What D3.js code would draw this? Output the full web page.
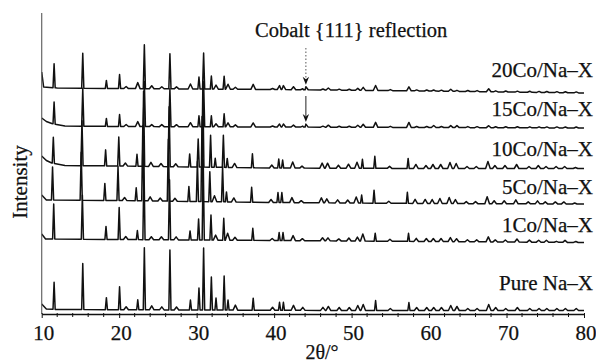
<!DOCTYPE html>
<html>
<head>
<meta charset="utf-8">
<script src="https://cdn.jsdelivr.net/npm/d3@7"></script>
<style>
  html, body { margin: 0; padding: 0; background: #fff; }
  svg { display: block; }
  text { font-family: "Liberation Serif", "Times New Roman", serif; fill: #111; stroke: #111; stroke-width: 0.25px; }
</style>
</head>
<body>
<svg id="chart" width="596" height="364"></svg>
<script>
// ---- data -------------------------------------------------------------
const xTicks = [10, 20, 30, 40, 50, 60, 70, 80];
const minorTicks = d3.range(10, 81, 2);
const sampleNames = ["Pure Na–X", "1Co/Na–X", "5Co/Na–X", "10Co/Na–X", "15Co/Na–X", "20Co/Na–X"];

// Reflection positions (2θ, degrees) shared by all patterns
const peakAngles = [
  11.6, 15.3, 18.35, 20.05, 20.9, 22.4, 23.25, 24.2, 25.5, 26.55,
  27.4, 29.2, 30.3, 30.9, 31.9, 32.5, 33.55, 34.05, 35.0, 37.3,
  39.8, 40.7, 41.2, 42.5, 43.7, 44.1, 46.3, 47.0, 48.4, 49.7,
  50.8, 51.5, 53.1, 55.0, 57.4, 58.4, 59.7, 60.6, 61.6, 62.8,
  63.6, 65.0, 66.2, 67.7, 68.6, 69.9, 71.4, 73.0, 74.2, 75.2,
  76.5, 77.6, 79.0
];

// Peak heights above background (arbitrary intensity units), one per angle
const heightsPure = [
  27, 46, 12, 23, 3, 10, 62, 4, 3, 60,
  3, 10, 22, 62, 33, 12, 34, 10, 5, 12,
  3, 8, 8, 5, 3, 0, 3, 4, 3, 3,
  5, 6, 10, 2, 8, 3, 3, 3, 3, 5,
  4, 2, 2, 6, 3, 2, 3, 2, 2, 2,
  2, 2, 2
];
const heights1Co = [
  35, 44, 13, 32, 3, 9, 75, 3, 3, 60,
  3, 9, 21, 80, 25, 5, 22, 7, 3, 12,
  2, 8, 8, 5, 2, 0, 3, 3, 2, 3,
  4, 7, 8, 2, 8, 3, 3, 3, 3, 4,
  3, 2, 2, 5, 2, 2, 3, 2, 2, 2,
  1, 2, 1
];
const heights5Co = [
  33, 48, 17, 34, 3, 13, 75, 4, 3, 62,
  3, 15, 40, 85, 30, 6, 35, 10, 4, 15,
  3, 10, 10, 5, 2, 0, 5, 4, 3, 3,
  6, 8, 13, 2, 11, 4, 4, 4, 5, 6,
  4, 2, 2, 7, 3, 3, 4, 2, 3, 2,
  2, 2, 1
];
const heights10Co = [
  26, 45, 16, 29, 3, 12, 75, 4, 3, 60,
  3, 13, 28, 80, 32, 9, 32, 9, 4, 14,
  3, 9, 8, 6, 2, 0, 5, 5, 3, 4,
  6, 9, 12, 2, 10, 4, 3, 4, 4, 6,
  5, 2, 2, 7, 3, 3, 4, 2, 3, 2,
  2, 2, 1
];
const heights15Co = [
  22, 38, 8, 12, 2, 5, 45, 2, 2, 38,
  2, 4, 11, 45, 11, 3, 13, 4, 2, 4,
  1, 3, 3, 2, 1, 3, 1, 2, 1, 1,
  2, 3, 5, 1, 5, 1, 1, 2, 1, 2,
  2, 1, 1, 2, 1, 1, 1, 1, 1, 1,
  1, 1, 1
];
const heights20Co = [
  24, 35, 8, 14, 2, 6, 44, 3, 2, 35,
  2, 5, 12, 36, 13, 4, 13, 5, 2, 5,
  1, 4, 4, 3, 1, 3, 1, 2, 1, 1,
  2, 3, 5, 1, 4, 1, 1, 1, 1, 2,
  1, 1, 1, 3, 1, 1, 1, 1, 1, 1,
  1, 1, 1
];

// Background level of each pattern (2θ, stacked intensity)
const backgroundPure = [[10, 10], [10.6, 5], [12, 4.5], [30, 4], [50, 3.5], [80, 3.5]];
const background1Co  = [[10, 80], [10.5, 75], [20, 74.5], [40, 73.5], [60, 72.5], [80, 71.5]];
const background5Co  = [[10, 119], [10.6, 114], [20, 113.5], [40, 111.5], [60, 110.5], [80, 110]];
const background10Co = [[10, 158], [10.6, 153.5], [11.3, 151], [13, 148.5], [20, 148], [40, 146], [60, 145.5], [80, 145.5]];
const background15Co = [[10, 196], [10.6, 192.5], [11.3, 190.5], [13, 188], [20, 187.5], [40, 187], [60, 186.5], [80, 186]];
const background20Co = [[10, 242], [10.25, 227], [12, 226], [20, 225.5], [40, 224.5], [60, 223], [80, 221]];

// Small lattice shift of each pattern (degrees)
const peakShift = [0, -0.05, -0.2, -0.1, 0, 0];
const cobaltAngle = 44.1;

const heightSets = [heightsPure, heights1Co, heights5Co, heights10Co, heights15Co, heights20Co];
const backgroundSets = [backgroundPure, background1Co, background5Co, background10Co, background15Co, background20Co];

// ---- layout -------------------------------------------------------------
const svg = d3.select("#chart");
svg.append("rect").attr("width", 596).attr("height", 364).attr("fill", "#fff");

const x = d3.scaleLinear().domain([10, 80]).range([41.7, 584]);
const y = d3.scaleLinear().domain([0, 300]).range([314, 14]);

// strong reflections are sharp; weak ones read as broad bumps
const halfWidth = h => (h >= 8 ? 0.14 : 0.3);

const line = d3.line().x(d => x(d[0])).y(d => y(d[1]));

function backgroundScale(i) {
  return d3.scaleLinear()
    .domain(backgroundSets[i].map(d => d[0]))
    .range(backgroundSets[i].map(d => d[1]));
}

function patternPoints(i) {
  const bg = backgroundScale(i);
  const peaks = [];
  peakAngles.forEach((a, k) => {
    const h = heightSets[i][k];
    if (h <= 0) return;
    const c = a + peakShift[i];
    const w = halfWidth(h);
    peaks.push({ lo: c - w, hi: c + w, pts: [[c - w, bg(c - w)], [c, bg(c) + h], [c + w, bg(c + w)]] });
  });
  // background knots that fall inside a reflection are dropped
  const knots = backgroundSets[i]
    .filter(b => !peaks.some(p => b[0] > p.lo && b[0] < p.hi))
    .map(b => [b[0], b[1]]);
  return knots.concat(...peaks.map(p => p.pts)).sort((p, q) => p[0] - q[0]);
}

const traces = svg.append("g");
sampleNames.forEach((name, i) => {
  traces.append("path")
    .attr("d", line(patternPoints(i)))
    .attr("fill", "none")
    .attr("stroke", "#111")
    .attr("stroke-width", 1.5)
    .attr("stroke-linejoin", "round");
});

// sample labels, right aligned above each trace
const labelGap = [20.5, 10.5, 10, 12.5, 12, 16];
sampleNames.forEach((name, i) => {
  const bgEnd = backgroundSets[i][backgroundSets[i].length - 1][1];
  svg.append("text")
    .attr("x", 593)
    .attr("y", y(bgEnd) - labelGap[i])
    .attr("text-anchor", "end")
    .attr("font-size", 21)
    .text(name);
});

// vertical intensity axis (line only)
svg.append("line")
  .attr("x1", 41.7).attr("x2", 41.7)
  .attr("y1", 13).attr("y2", 314)
  .attr("stroke", "#666").attr("stroke-width", 1.2);

// x axis with minor ticks every 2°
const xAxis = svg.append("g").attr("transform", "translate(0,314)")
  .call(d3.axisBottom(x).tickValues(xTicks).tickSize(4).tickSizeOuter(0).tickFormat(d3.format("d")));
xAxis.select(".domain").attr("stroke", "#111").attr("stroke-width", 1.3);
xAxis.selectAll(".tick line").attr("stroke", "#111").attr("y1", -1);
xAxis.selectAll(".tick text")
  .attr("x", 1.5)
  .attr("y", 26).attr("dy", 0)
  .attr("font-size", 21)
  .attr("font-family", "\"Liberation Serif\", \"Times New Roman\", serif")
  .attr("fill", "#111");
svg.append("g").attr("transform", "translate(0,314)")
  .selectAll("line").data(minorTicks.filter(t => !xTicks.includes(t))).join("line")
  .attr("x1", d => x(d)).attr("x2", d => x(d))
  .attr("y1", -1).attr("y2", 3)
  .attr("stroke", "#111").attr("stroke-width", 1);

// axis titles
svg.append("text")
  .attr("x", 322).attr("y", 359)
  .attr("text-anchor", "middle")
  .attr("font-size", 20)
  .text("2θ/°");
svg.append("text")
  .attr("transform", "translate(27,182) rotate(-90)")
  .attr("text-anchor", "middle")
  .attr("font-size", 21)
  .text("Intensity");

// cobalt {111} annotation
svg.append("text")
  .attr("x", 255).attr("y", 37)
  .attr("font-size", 20.5)
  .text("Cobalt {111} reflection");

function arrow(top, tip, dashed) {
  const cx = x(cobaltAngle);
  svg.append("line")
    .attr("x1", cx).attr("x2", cx)
    .attr("y1", top).attr("y2", tip - 6)
    .attr("stroke", dashed ? "#555" : "#222")
    .attr("stroke-width", 1)
    .attr("stroke-dasharray", dashed ? "1.5,2" : null);
  svg.append("path")
    .attr("d", `M${cx - 3.2},${tip - 8} L${cx},${tip - 5.5} L${cx + 3.2},${tip - 8} L${cx},${tip} Z`)
    .attr("fill", "#111");
}
const k = peakAngles.indexOf(cobaltAngle);
const cobalt20 = backgroundScale(5)(cobaltAngle) + heights20Co[k];
const cobalt15 = backgroundScale(4)(cobaltAngle) + heights15Co[k];
arrow(48, y(cobalt20) - 2, true);
arrow(96, y(cobalt15) - 2, false);
</script>
</body>
</html>
